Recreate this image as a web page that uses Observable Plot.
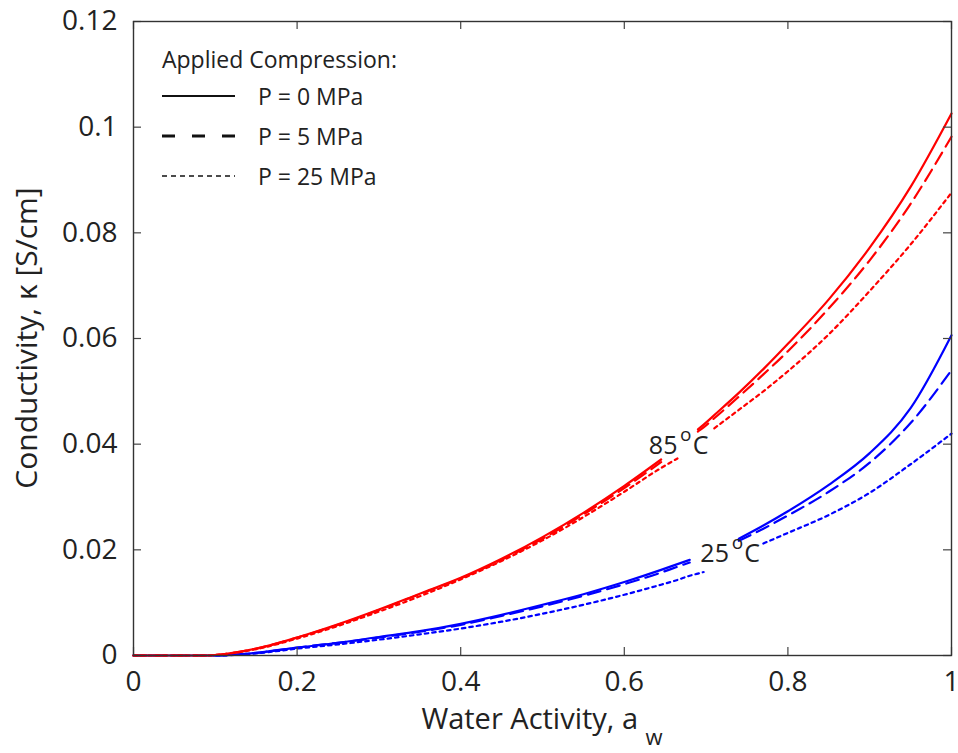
<!DOCTYPE html>
<html><head><meta charset="utf-8">
<script src="https://cdn.jsdelivr.net/npm/d3@7"></script>
<script src="https://cdn.jsdelivr.net/npm/@observablehq/plot@0.6"></script>
<style>
body{margin:0;background:#fff;}
#wrap{position:relative;width:958px;height:753px;font-family:"Open Sans",sans-serif;color:#222;}
#legend{position:absolute;left:162px;top:41px;font-size:23px;line-height:22px;}
#legend .row{display:flex;align-items:center;height:40px;}
#legend .title{height:35px;}
#legend svg{width:96px;height:12px;}
</style></head><body>
<div id="wrap"><div id="chart"></div><div id="legend"></div></div>
<script>
// Water activity grid (x)
const aw = [0, 0.05, 0.09, 0.1, 0.15, 0.2, 0.25, 0.3, 0.35, 0.4, 0.45, 0.5, 0.55, 0.6, 0.645, 0.665, 0.68, 0.69, 0.697, 0.71, 0.74, 0.77, 0.8, 0.85, 0.9, 0.95, 1];
// 85 °C conductivity [S/cm]
const red0  = [0, 0, 0, 0.0001, 0.0013, 0.0034, 0.0059, 0.0087, 0.0117, 0.0147, 0.0183, 0.0224, 0.0270, 0.0321, 0.0371, null, null, 0.0428, 0.0437, 0.0455, 0.0497, 0.0542, 0.0590, 0.0674, 0.0772, 0.0887, 0.1026];
const red5  = [0, 0, 0, 0.0001, 0.0013, 0.0034, 0.0058, 0.0086, 0.0116, 0.0146, 0.0181, 0.0221, 0.0267, 0.0317, 0.0366, null, null, 0.0424, 0.0432, 0.0449, 0.0490, 0.0532, 0.0576, 0.0657, 0.0748, 0.0855, 0.0982];
const red25 = [0, 0, 0, 0.0001, 0.0012, 0.0032, 0.0056, 0.0083, 0.0112, 0.0144, 0.0179, 0.0218, 0.0262, 0.0310, 0.0355, 0.0373, null, null, null, 0.0430, 0.0465, 0.0500, 0.0538, 0.0608, 0.0690, 0.0778, 0.0876];
// 25 °C conductivity [S/cm]
const blue0  = [0, 0, 0, 0, 0.0005, 0.0015, 0.0024, 0.0035, 0.0046, 0.0060, 0.0077, 0.0096, 0.0116, 0.0139, 0.0162, 0.0173, 0.0181, null, null, null, 0.0221, 0.0246, 0.0273, 0.0323, 0.0383, 0.0468, 0.0606];
const blue5  = [0, 0, 0, 0, 0.0005, 0.0015, 0.0024, 0.0034, 0.0045, 0.0058, 0.0075, 0.0093, 0.0113, 0.0135, 0.0157, 0.0168, 0.0176, null, null, null, 0.0217, 0.0240, 0.0265, 0.0310, 0.0365, 0.0440, 0.0540];
const blue25 = [0, 0, 0, 0, 0.0004, 0.0013, 0.0021, 0.0030, 0.0040, 0.0051, 0.0064, 0.0079, 0.0096, 0.0115, 0.0134, 0.0143, 0.0151, 0.0155, 0.0158, null, null, 0.0212, 0.0232, 0.0266, 0.0308, 0.0362, 0.0420];

const xTicks = [0, 0.2, 0.4, 0.6, 0.8, 1];
const xTickLabels = ["0", "0.2", "0.4", "0.6", "0.8", "1"];
const yTicks = [0, 0.02, 0.04, 0.06, 0.08, 0.1, 0.12];
const yTickLabels = ["0", "0.02", "0.04", "0.06", "0.08", "0.1", "0.12"];

const pressures = ["P = 0 MPa", "P = 5 MPa", "P = 25 MPa"];
const dashes = [null, "13,7", "3.5,4"];
const annotText = ["85", "25"];
const annotAw = [0.63, 0.693];
const annotK = [0.0396, 0.0193];

const W = 958, H = 753, ML = 133, MR = 7, MT = 21, MB = 98, TICK = 8;
const FW = W - ML - MR, FH = H - MT - MB;

const series = [
  {vals: blue0, color: "#0000ff", p: 0}, {vals: blue5, color: "#0000ff", p: 1}, {vals: blue25, color: "#0000ff", p: 2},
  {vals: red0, color: "#ff0000", p: 0}, {vals: red5, color: "#ff0000", p: 1}, {vals: red25, color: "#ff0000", p: 2}
];
const lineMarks = series.map(s => Plot.line(aw.map((a, i) => ({aw: a, k: s.vals[i]})), {
  x: "aw", y: "k", stroke: s.color, strokeWidth: 2.2, curve: "monotone-x",
  strokeDasharray: dashes[s.p] || undefined
}));
const annots = annotText.map((t, i) => ({t, aw: annotAw[i], k: annotK[i]}));

const fmtX = d => xTickLabels[xTicks.indexOf(d)];
const fmtY = d => yTickLabels[yTicks.indexOf(d)];
const tickStyle = {stroke: "#444", strokeWidth: 1.2};

const chart = Plot.plot({
  width: W, height: H,
  marginLeft: ML, marginRight: MR, marginTop: MT, marginBottom: MB,
  style: {fontFamily: "'Open Sans', sans-serif", background: "white", color: "#222", overflow: "visible"},
  x: {domain: [0, 1], label: null},
  y: {domain: [0, 0.12], label: null},
  marks: [
    ...lineMarks,
    Plot.text(annots, {x: "aw", y: "k", text: "t", textAnchor: "start", fontSize: 25, fill: "#222"}),
    Plot.text(annots, {x: "aw", y: "k", text: () => "o", dx: 37, dy: -11, fontSize: 19, fill: "#222"}),
    Plot.text(annots, {x: "aw", y: "k", text: () => "C", dx: 44, textAnchor: "start", fontSize: 25, fill: "#222"}),
    // inward ticks on all four sides
    Plot.ruleX(xTicks, {x: d => d, insetTop: FH - TICK, ...tickStyle}),
    Plot.ruleX(xTicks, {x: d => d, insetBottom: FH - TICK, ...tickStyle}),
    Plot.ruleY(yTicks, {y: d => d, insetRight: FW - TICK, ...tickStyle}),
    Plot.ruleY(yTicks, {y: d => d, insetLeft: FW - TICK, ...tickStyle}),
    Plot.frame({stroke: "#333", strokeWidth: 1.4}),
    Plot.axisX({ticks: xTicks, tickSize: 0, tickPadding: 16, tickFormat: fmtX, fontSize: 28, label: null}),
    Plot.axisY({ticks: yTicks, tickSize: 0, tickPadding: 16, tickFormat: fmtY, fontSize: 28, label: null})
  ]
});
document.getElementById("chart").appendChild(chart);

// axis titles
const xr = chart.scale("x").range, yr = chart.scale("y").range;
const svg = d3.select(chart);
const xt = svg.append("text").attr("x", (xr[0] + xr[1]) / 2).attr("y", 729)
  .attr("text-anchor", "middle").attr("font-size", 29).attr("fill", "#222");
xt.append("tspan").text("Water Activity, a ");
xt.append("tspan").attr("dy", 16).attr("font-size", 22).text("w");
svg.append("text").attr("transform", `translate(37,${(yr[0] + yr[1]) / 2}) rotate(-90)`)
  .attr("text-anchor", "middle").attr("font-size", 30).attr("fill", "#222")
  .text("Conductivity, κ [S/cm]");

// legend
const leg = d3.select("#legend");
leg.append("div").attr("class", "row title").text("Applied Compression:");
const legDash = [null, "13,17", "5,4"];
const legW = [2.2, 3, 1.5];
pressures.forEach((p, i) => {
  const row = leg.append("div").attr("class", "row");
  const s = row.append("svg");
  s.append("line").attr("x1", 0).attr("x2", 73).attr("y1", 6).attr("y2", 6)
    .attr("stroke", "#111").attr("stroke-width", legW[i]).attr("stroke-dasharray", legDash[i]);
  row.append("span").text(p);
});
</script>
</body></html>
